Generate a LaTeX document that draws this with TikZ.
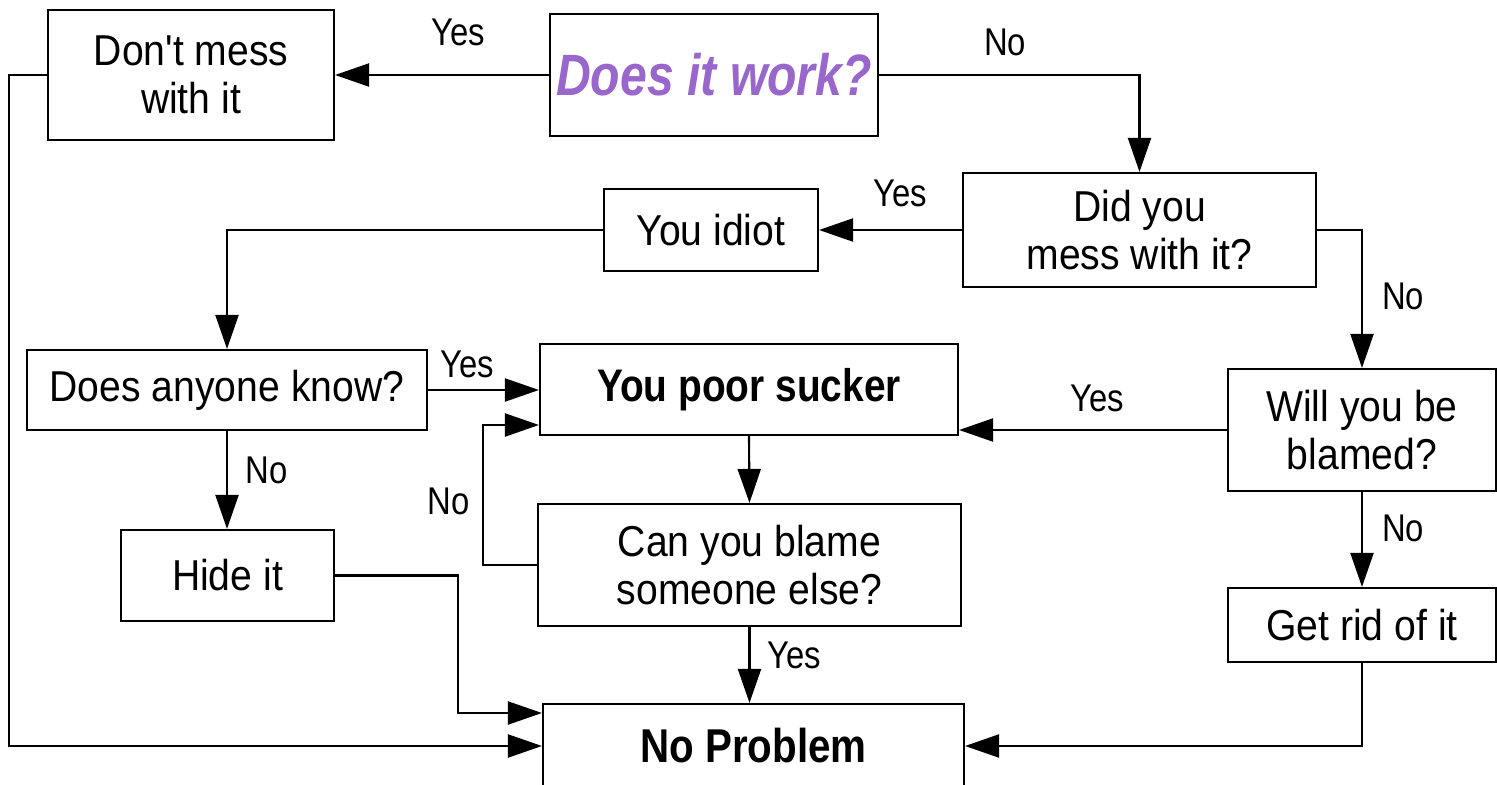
\documentclass[tikz,border=0pt]{standalone}
\usepackage{fontspec}
\setmainfont[FakeStretch=0.85, Ligatures=TeXOff]{Liberation Sans}
\newfontfamily\boxfont[FakeStretch=0.905, Ligatures=TeXOff]{Liberation Sans}
\newfontfamily\workfont[FakeStretch=0.825]{Liberation Sans}
\usetikzlibrary{arrows.meta}
\definecolor{workpurple}{RGB}{153,102,204}

\begin{document}
\begin{tikzpicture}[
        box/.style = {draw, line width=0.6pt, align=center, inner sep=0pt,
                      font=\boxfont\fontsize{12.3}{13.6}\selectfont},
        arr/.style = {line width=0.6pt, -{Triangle[length=0.34cm, width=0.23cm]}},
        lbl/.style = {inner sep=0pt, font=\fontsize{11}{12}\selectfont}
    ]
                \useasboundingbox (0cm,0cm) rectangle (14.97cm,-7.85cm);
                \clip (0cm,0cm) rectangle (14.97cm,-7.85cm);

                % boxes
                \node[box, minimum width=2.86cm, minimum height=1.30cm] (dont) at (1.91cm,-0.75cm) {Don't mess\\with it};
                \node[box, minimum width=3.28cm, minimum height=1.22cm, text=workpurple,
                      font=\workfont\fontsize{16.6}{18}\selectfont\bfseries\itshape] (work) at (7.14cm,-0.75cm) {Does it work?};
                \node[box, minimum width=3.53cm, minimum height=1.14cm] (didyou) at (11.395cm,-2.30cm) {Did you\\mess with it?};
                \node[box, minimum width=2.14cm, minimum height=0.82cm] (idiot) at (7.11cm,-2.30cm) {You idiot};
                \node[box, minimum width=4.00cm, minimum height=0.80cm] (anyone) at (2.27cm,-3.90cm) {Does anyone know?};
                \node[box, minimum width=4.18cm, minimum height=0.91cm,
                      font=\fontsize{13}{14}\selectfont\bfseries] (sucker) at (7.49cm,-3.895cm) {You poor sucker};
                \node[box, minimum width=2.68cm, minimum height=1.22cm] (blamed) at (13.62cm,-4.30cm) {Will you be\\blamed?};
                \node[box, minimum width=2.13cm, minimum height=0.91cm] (hide) at (2.275cm,-5.755cm) {Hide it};
                \node[box, minimum width=4.23cm, minimum height=1.22cm] (blame) at (7.495cm,-5.65cm) {Can you blame\\someone else?};
                \node[box, minimum width=2.68cm, minimum height=0.74cm] (rid) at (13.62cm,-6.25cm) {Get rid of it};
                \node[box, minimum width=4.21cm, minimum height=0.84cm,
                      font=\fontsize{13.5}{14}\selectfont\bfseries] (noprob) at (7.535cm,-7.46cm) {No Problem};

                % connectors
                \draw[arr] (work.west) -- (dont.east);
                \draw[arr] (work.east) -| (didyou.north);
                \draw[arr] (didyou.west) -- (idiot.east);
                \draw[arr] (didyou.east) -| (blamed.north);
                \draw[arr] (idiot.west) -| (anyone.north);
                \draw[arr] (anyone.east) -- (anyone.east -| sucker.west);
                \draw[arr] (anyone.south) -- (anyone.south |- hide.north);
                \draw[arr] (blamed.west) -- (blamed.west -| sucker.east);
                \draw[arr] (blamed.south) -- (rid.north);
                \draw[arr] (sucker.south) -- (blame.north);
                \draw[arr] (blame.west) -- ++(-0.54cm,0cm) |- ([yshift=-0.355cm]sucker.west);
                \draw[arr] (blame.south) -- (blame.south |- noprob.north);
                \draw[arr] (hide.east) -- ++(1.23cm,0cm) |- ([yshift=0.33cm]noprob.west);
                \draw[arr] (dont.west) -- ++(-0.38cm,0cm) |- (noprob.west);
                \draw[arr] (rid.south) |- (noprob.east);

                % answers
                \node[lbl] (yesdont)   at (4.58cm,-0.32cm) {Yes};
                \node[lbl] (nowork)    at (10.05cm,-0.42cm) {No};
                \node[lbl] (yesidiot)  at (9.00cm,-1.93cm) {Yes};
                \node[lbl] (nomess)    at (14.03cm,-2.96cm) {No};
                \node[lbl] (yesknow)   at (4.67cm,-3.64cm) {Yes};
                \node[lbl] (noknow)    at (2.67cm,-4.70cm) {No};
                \node[lbl] (yesblamed) at (10.97cm,-3.98cm) {Yes};
                \node[lbl] (noblamed)  at (14.03cm,-5.28cm) {No};
                \node[lbl] (noblame)   at (4.49cm,-5.01cm) {No};
                \node[lbl] (yesblame)  at (7.94cm,-6.55cm) {Yes};
            \end{tikzpicture}
\end{document}
